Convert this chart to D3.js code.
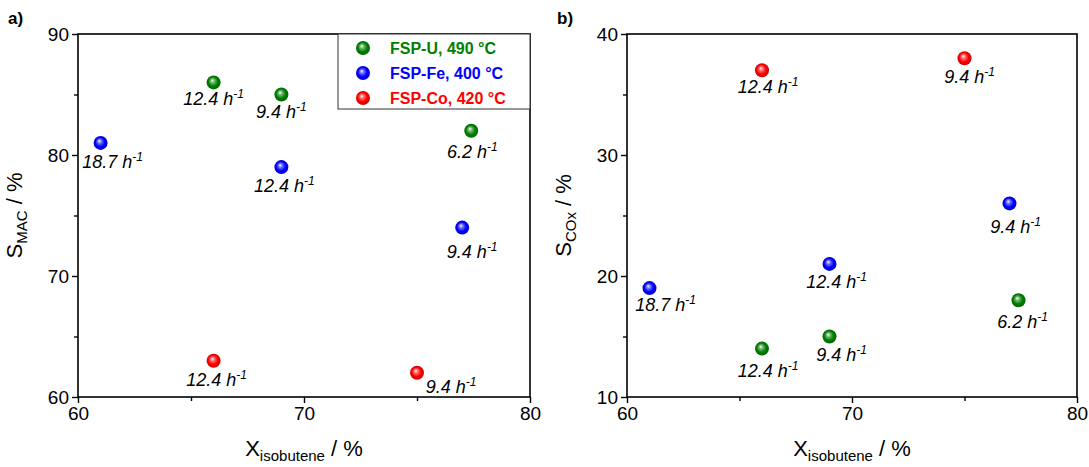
<!DOCTYPE html>
<html>
<head>
  <meta charset="utf-8">
  <title>Selectivity vs conversion</title>
  <script src="https://d3js.org/d3.v7.min.js"></script>
  <style>
    body { margin: 0; background: #fff; }
    text { font-family: "Liberation Sans", Arial, sans-serif; }
    .lbl { font-size: 18px; font-style: italic; }
  </style>
</head>
<body>
<svg width="1089" height="467"></svg>
<script>
// catalysts
const catalysts = ["FSP-U, 490 °C", "FSP-Fe, 400 °C", "FSP-Co, 420 °C"];
const colors = ["#008000", "#0000ff", "#ff0000"];

// conversion of isobutene (%) per catalyst
const convU = [66, 69, 77.4];
const convFe = [61, 69, 77];
const convCo = [66, 75];

// space velocity labels (h-1)
const whsvU = ["12.4", "9.4", "6.2"];
const whsvFe = ["18.7", "12.4", "9.4"];
const whsvCo = ["12.4", "9.4"];

// panel a: MAC selectivity (%)
const sMacU = [86, 85, 82];
const sMacFe = [81, 79, 74];
const sMacCo = [63, 62];

// panel b: COx selectivity (%)
const sCoxU = [14, 15, 18];
const sCoxFe = [19, 21, 26];
const sCoxCo = [37, 38];

const xTicks = [60, 70, 80];
const yTicksA = [60, 70, 80, 90];
const yTicksB = [10, 20, 30, 40];

// label offsets from marker (px), same order as points
const offA = [[[0, 23], [0, 23], [1, 27]], [[12, 25], [3, 25], [10, 30]], [[3, 25], [34, 20]]];
const offB = [[[6, 28], [12, 24], [4, 28]], [[16, 23], [7, 24], [6, 30]], [[6, 23], [5, 25]]];

const svg = d3.select("svg");

// sphere gradients
const defs = svg.append("defs");
colors.forEach((c, i) => {
  const g = defs.append("radialGradient").attr("id", "sph" + i)
    .attr("cx", "50%").attr("cy", "50%").attr("r", "55%")
    .attr("fx", "40%").attr("fy", "35%");
  g.append("stop").attr("offset", "0%").attr("stop-color", "#fff");
  g.append("stop").attr("offset", "25%").attr("stop-color", d3.interpolateRgb("#fff", c)(0.55));
  g.append("stop").attr("offset", "60%").attr("stop-color", c);
  g.append("stop").attr("offset", "100%").attr("stop-color", d3.color(c).darker(0.8));
});

function panel(opt) {
  const { left, right, top, bottom, yDomain, yTicks, yMinor, series, offs, yTitle, ySub, tag, legend } = opt;
  const x = d3.scaleLinear().domain([60, 80]).range([left, right]);
  const y = d3.scaleLinear().domain(yDomain).range([bottom, top]);
  const g = svg.append("g");

  // frame
  g.append("rect").attr("x", left).attr("y", top)
    .attr("width", right - left).attr("height", bottom - top)
    .attr("fill", "none").attr("stroke", "#000").attr("stroke-width", 1.6);

  // minor ticks
  g.append("g").attr("transform", `translate(0,${bottom})`)
    .call(d3.axisBottom(x).tickValues([65, 75]).tickSize(4).tickFormat(""))
    .call(a => a.select(".domain").remove());
  g.append("g").attr("transform", `translate(${left},0)`)
    .call(d3.axisLeft(y).tickValues(yMinor).tickSize(4).tickFormat(""))
    .call(a => a.select(".domain").remove());

  // major ticks
  const xa = g.append("g").attr("transform", `translate(0,${bottom})`)
    .call(d3.axisBottom(x).tickValues(xTicks).tickSize(6).tickPadding(4));
  const ya = g.append("g").attr("transform", `translate(${left},0)`)
    .call(d3.axisLeft(y).tickValues(yTicks).tickSize(6).tickPadding(3));
  [xa, ya].forEach(a => {
    a.select(".domain").remove();
    a.selectAll("text").attr("fill", "#000").style("font-size", "19px");
  });
  g.selectAll(".tick line").attr("stroke-width", 1.4);

  // axis titles
  const xt = g.append("text").attr("x", (left + right) / 2).attr("y", 456)
    .attr("text-anchor", "middle").style("font-size", "22px");
  xt.append("tspan").text("X");
  xt.append("tspan").text("isobutene").attr("dy", 5).style("font-size", "15px");
  xt.append("tspan").text(" / %").attr("dy", -5);

  const yt = g.append("text")
    .attr("transform", `translate(${left - 56},${(top + bottom) / 2}) rotate(-90)`)
    .attr("text-anchor", "middle").style("font-size", "22px");
  yt.append("tspan").text(yTitle);
  yt.append("tspan").text(ySub).attr("dy", 5).style("font-size", "15px");
  yt.append("tspan").text(" / %").attr("dy", -5);

  g.append("text").attr("x", left - 70).attr("y", 24)
    .style("font-size", "17px").style("font-weight", "bold").text(tag);

  // points
  series.forEach((s, i) => {
    s.x.forEach((xv, j) => {
      const px = x(xv), py = y(s.y[j]);
      g.append("circle").attr("cx", px).attr("cy", py).attr("r", 7)
        .attr("fill", `url(#sph${i})`);
      const t = g.append("text").attr("class", "lbl")
        .attr("x", px + offs[i][j][0]).attr("y", py + offs[i][j][1])
        .attr("text-anchor", "middle");
      t.append("tspan").text(s.lab[j] + " h");
      t.append("tspan").text("-1").attr("dy", -7).style("font-size", "12px");
    });
  });

  if (legend) {
    const lx = 338, ly = top;
    g.append("rect").attr("x", lx).attr("y", ly).attr("width", right - lx).attr("height", 75)
      .attr("fill", "#fff").attr("stroke", "#333").attr("stroke-width", 1);
    catalysts.forEach((c, i) => {
      const cy = ly + 14 + i * 25;
      g.append("circle").attr("cx", lx + 25).attr("cy", cy).attr("r", 7)
        .attr("fill", `url(#sph${i})`);
      g.append("text").attr("x", lx + 52).attr("y", cy + 6)
        .attr("fill", colors[i]).style("font-size", "16px").style("font-weight", "bold")
        .text(c);
    });
  }
}

panel({
  left: 78, right: 530, top: 34, bottom: 397,
  yDomain: [60, 90], yTicks: yTicksA, yMinor: [65, 75, 85],
  series: [
    { x: convU, y: sMacU, lab: whsvU },
    { x: convFe, y: sMacFe, lab: whsvFe },
    { x: convCo, y: sMacCo, lab: whsvCo }
  ],
  offs: offA, yTitle: "S", ySub: "MAC", tag: "a)", legend: true
});

panel({
  left: 627, right: 1077, top: 34, bottom: 397,
  yDomain: [10, 40], yTicks: yTicksB, yMinor: [15, 25, 35],
  series: [
    { x: convU, y: sCoxU, lab: whsvU },
    { x: convFe, y: sCoxFe, lab: whsvFe },
    { x: convCo, y: sCoxCo, lab: whsvCo }
  ],
  offs: offB, yTitle: "S", ySub: "COx", tag: "b)", legend: false
});
</script>
</body>
</html>
